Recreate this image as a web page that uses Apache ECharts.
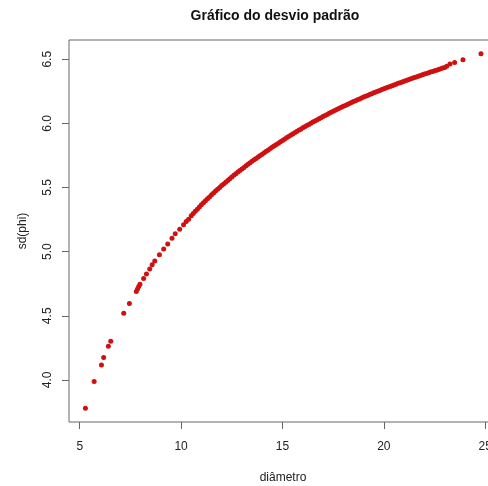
<!DOCTYPE html>
<html>
<head>
<meta charset="utf-8">
<script src="https://cdn.jsdelivr.net/npm/echarts@6/dist/echarts.min.js"></script>
<style>html,body{margin:0;padding:0;background:#fff;}#c{width:488px;height:486px;}</style>
</head>
<body>
<div id="c"></div>
<script>
// diâmetro values
const diametro = [
  5.28, 5.71, 6.07, 6.18, 6.41, 6.53, 7.17, 7.45, 7.79, 7.85, 7.91, 7.97, 8.15, 8.29, 8.45, 8.57, 8.70, 8.93,
  9.14, 9.34, 9.55, 9.71, 9.93, 10.12, 10.25, 10.37,
  10.5, 10.6, 10.7, 10.8, 10.9, 11.0, 11.1, 11.2, 11.3, 11.4, 11.5, 11.6, 11.7, 11.8, 11.9,
  12.0, 12.1, 12.2, 12.3, 12.4, 12.5, 12.6, 12.7, 12.8, 12.9, 13.0, 13.1, 13.2, 13.3, 13.4,
  13.5, 13.6, 13.7, 13.8, 13.9, 14.0, 14.1, 14.2, 14.3, 14.4, 14.5, 14.6, 14.7, 14.8, 14.9,
  15.0, 15.1, 15.2, 15.3, 15.4, 15.5, 15.6, 15.7, 15.8, 15.9, 16.0, 16.1, 16.2, 16.3, 16.4,
  16.5, 16.6, 16.7, 16.8, 16.9, 17.0, 17.1, 17.2, 17.3, 17.4, 17.5, 17.6, 17.7, 17.8, 17.9,
  18.0, 18.1, 18.2, 18.3, 18.4, 18.5, 18.6, 18.7, 18.8, 18.9, 19.0, 19.1, 19.2, 19.3, 19.4,
  19.5, 19.6, 19.7, 19.8, 19.9, 20.0, 20.1, 20.2, 20.3, 20.4, 20.5, 20.6, 20.7, 20.8, 20.9,
  21.0, 21.1, 21.2, 21.3, 21.4, 21.5, 21.6, 21.7, 21.8, 21.9, 22.0, 22.1, 22.2, 22.3, 22.4,
  22.5, 22.6, 22.7, 22.8, 22.9, 23.0, 23.1, 23.26, 23.49, 23.90, 24.79
];
// sd(phi) values
const sdPhi = [
  3.780, 3.987, 4.117, 4.174, 4.263, 4.302, 4.520, 4.595, 4.690, 4.708, 4.728, 4.745, 4.790, 4.825, 4.864, 4.897, 4.928, 4.975,
  5.020, 5.060, 5.105, 5.139, 5.175, 5.209, 5.235, 5.253,
  5.280, 5.297, 5.314, 5.331, 5.348, 5.365, 5.381, 5.396, 5.412, 5.427, 5.443, 5.457, 5.472, 5.486, 5.501,
  5.515, 5.528, 5.542, 5.555, 5.569, 5.582, 5.595, 5.607, 5.620, 5.632, 5.645, 5.657, 5.669, 5.681, 5.693,
  5.705, 5.716, 5.727, 5.738, 5.749, 5.760, 5.771, 5.782, 5.793, 5.804, 5.815, 5.825, 5.836, 5.846, 5.857,
  5.867, 5.877, 5.887, 5.897, 5.907, 5.917, 5.927, 5.936, 5.946, 5.955, 5.965, 5.974, 5.983, 5.992, 6.001,
  6.010, 6.019, 6.027, 6.036, 6.044, 6.053, 6.061, 6.069, 6.078, 6.086, 6.094, 6.102, 6.110, 6.117, 6.125,
  6.133, 6.140, 6.148, 6.155, 6.163, 6.170, 6.177, 6.184, 6.191, 6.198, 6.205, 6.212, 6.218, 6.225, 6.231,
  6.238, 6.244, 6.251, 6.257, 6.264, 6.270, 6.276, 6.282, 6.288, 6.294, 6.300, 6.306, 6.312, 6.317, 6.323,
  6.329, 6.335, 6.340, 6.346, 6.351, 6.357, 6.362, 6.368, 6.373, 6.379, 6.384, 6.389, 6.394, 6.400, 6.405,
  6.410, 6.415, 6.420, 6.426, 6.431, 6.436, 6.445, 6.462, 6.475, 6.496, 6.543
];
const xTicks = [5, 10, 15, 20, 25];
const yTicks = [4.0, 4.5, 5.0, 5.5, 6.0, 6.5];

const points = diametro.map((d, i) => [d, sdPhi[i]]);
const FONT = '"Liberation Sans", Arial, sans-serif';
const chart = echarts.init(document.getElementById('c'), null, {renderer: 'canvas'});
chart.setOption({
  animation: false,
  backgroundColor: '#ffffff',
  title: {
    text: 'Gráfico do desvio padrão',
    left: 270, top: 4, textAlign: 'center',
    textStyle: {fontFamily: FONT, fontSize: 14, fontWeight: 'bold', color: '#111'}
  },
  grid: {
    left: 69, top: 40, width: 428, height: 382,
    outerBoundsMode: 'none', containLabel: false,
    show: true, borderColor: '#666', borderWidth: 1, backgroundColor: 'transparent'
  },
  xAxis: {
    type: 'value', min: 4.47, max: 25.58,
    name: 'diâmetro', nameLocation: 'middle', nameGap: 50,
    nameTextStyle: {fontFamily: FONT, fontSize: 12, color: '#222'},
    axisLine: {show: false},
    axisTick: {show: true, inside: false, length: 7, customValues: xTicks, lineStyle: {color: '#666'}},
    axisLabel: {customValues: xTicks, margin: 19, fontFamily: FONT, fontSize: 12, color: '#222'},
    splitLine: {show: false}
  },
  yAxis: {
    type: 'value', min: 3.672, max: 6.65,
    name: 'sd(phi)', nameLocation: 'middle', nameGap: 40, nameRotate: 90,
    nameTextStyle: {fontFamily: FONT, fontSize: 12, color: '#222'},
    axisLine: {show: false},
    axisTick: {show: true, inside: false, length: 7, customValues: yTicks, lineStyle: {color: '#666'}},
    axisLabel: {customValues: yTicks, rotate: 90, margin: 15, fontFamily: FONT, fontSize: 12, color: '#222',
      formatter: v => v.toFixed(1)},
    splitLine: {show: false}
  },
  series: [{
    type: 'scatter',
    data: points,
    symbol: 'circle',
    symbolSize: 5,
    itemStyle: {color: '#d01010', opacity: 1},
    silent: true
  }]
});
</script>
</body>
</html>
